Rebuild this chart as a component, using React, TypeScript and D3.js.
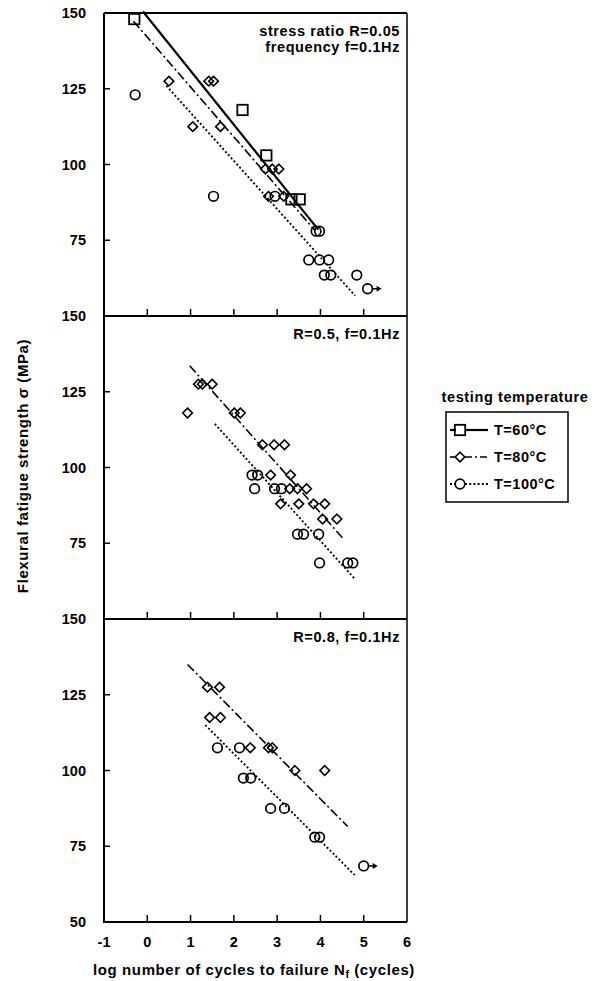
import React from "react";
import * as d3 from "d3";

// ---------- data ----------
const xTicks = [-1, 0, 1, 2, 3, 4, 5, 6];
const yTicks = [150, 125, 100, 75, 50];

const panelNotes: string[][] = [
  ["stress ratio R=0.05", "frequency f=0.1Hz"],
  ["R=0.5, f=0.1Hz"],
  ["R=0.8, f=0.1Hz"],
];

// Panel 1 (R=0.05)
const p1T60: [number, number][] = [[-0.3, 148], [2.2, 118], [2.75, 103], [3.33, 88.5], [3.52, 88.5]];
const p1T80: [number, number][] = [
  [0.5, 127.5], [1.42, 127.5], [1.53, 127.5], [1.05, 112.5], [1.69, 112.5],
  [2.73, 98.5], [2.89, 98.5], [3.04, 98.5], [2.8, 89.5], [3.15, 89.5],
];
const p1T100: [number, number][] = [
  [-0.28, 123], [1.53, 89.5], [2.95, 89.5], [3.9, 78], [3.98, 78],
  [3.73, 68.5], [3.98, 68.5], [4.19, 68.5], [4.09, 63.5], [4.24, 63.5], [4.84, 63.5], [5.09, 59],
];
const p1Runout: [number, number][] = [[5.09, 59]];
const p1Fit60: [number, number][] = [[-0.1, 150.5], [3.95, 78.5]];
const p1Fit80: [number, number][] = [[-0.32, 147.3], [3.87, 78.3]];
const p1Fit100: [number, number][] = [[0.44, 126], [4.8, 56.7]];

// Panel 2 (R=0.5)
const p2T80: [number, number][] = [
  [0.93, 118], [1.18, 127.5], [1.27, 127.5], [1.5, 127.5], [2.01, 118], [2.15, 118],
  [2.66, 107.5], [2.93, 107.5], [3.17, 107.5], [2.85, 97.5], [3.31, 97.5],
  [3.29, 93], [3.47, 93], [3.68, 93], [3.08, 88], [3.5, 88], [3.84, 88], [4.1, 88],
  [4.05, 83], [4.38, 83],
];
const p2T100: [number, number][] = [
  [2.42, 97.5], [2.55, 97.5], [2.48, 93], [2.94, 93], [3.1, 93],
  [3.47, 78], [3.61, 78], [3.96, 78], [3.98, 68.5], [4.63, 68.5], [4.75, 68.5],
];
const p2Fit80: [number, number][] = [[0.98, 133.6], [4.51, 76.8]];
const p2Fit100: [number, number][] = [[1.56, 114.4], [4.79, 63.3]];

// Panel 3 (R=0.8)
const p3T80: [number, number][] = [
  [1.39, 127.5], [1.67, 127.5], [1.44, 117.5], [1.69, 117.5],
  [2.38, 107.5], [2.8, 107.5], [2.89, 107.5], [3.41, 100], [4.1, 100],
];
const p3T100: [number, number][] = [
  [1.62, 107.5], [2.13, 107.5], [2.22, 97.5], [2.39, 97.5],
  [2.85, 87.5], [3.17, 87.5], [3.87, 78], [3.98, 78], [5.0, 68.5],
];
const p3Runout: [number, number][] = [[5.0, 68.5]];
const p3Fit80: [number, number][] = [[0.93, 135], [4.63, 81.5]];
const p3Fit100: [number, number][] = [[1.34, 115], [4.79, 65.5]];

const legendItems = ["T=60°C", "T=80°C", "T=100°C"];

// ---------- layout ----------
const W = 599, H = 981;
const left = 104, right = 407;
const top0 = 13, ph = 303;
const FONT = "'Liberation Sans', Arial, Helvetica, sans-serif";

const x = d3.scaleLinear().domain([-1, 6]).range([left, right]);

const styles = {
  60: { dash: "none", width: 2.2 },
  80: { dash: "9,3,2,3", width: 1.6 },
  100: { dash: "2,2.2", width: 1.8 },
};

type Pt = [number, number];

function Square({ cx, cy }: { cx: number; cy: number }) {
  return <rect x={cx - 5.2} y={cy - 5.2} width={10.4} height={10.4} fill="none" stroke="#000" strokeWidth={1.8} />;
}
function Diamond({ cx, cy }: { cx: number; cy: number }) {
  const s = 4.8;
  return (
    <path d={`M${cx},${cy - s}L${cx + s},${cy}L${cx},${cy + s}L${cx - s},${cy}Z`} fill="none" stroke="#000" strokeWidth={1.6} />
  );
}
function Circle({ cx, cy }: { cx: number; cy: number }) {
  return <circle cx={cx} cy={cy} r={4.8} fill="none" stroke="#000" strokeWidth={1.7} />;
}

interface PanelProps {
  idx: number;
  t60?: Pt[];
  t80: Pt[];
  t100: Pt[];
  fit60?: Pt[];
  fit80: Pt[];
  fit100: Pt[];
  runout?: Pt[];
  showBottomLabel?: boolean;
}

function Panel({ idx, t60, t80, t100, fit60, fit80, fit100, runout, showBottomLabel }: PanelProps) {
  const y0 = top0 + idx * ph;
  const y = d3.scaleLinear().domain([50, 150]).range([y0 + ph, y0]);
  const line = d3.line<Pt>().x((d) => x(d[0])).y((d) => y(d[1]));
  const notes = panelNotes[idx];
  const labels = showBottomLabel ? yTicks : yTicks.filter((t) => t !== 50);
  return (
    <g>
      <line x1={left} x2={left} y1={y0} y2={y0 + ph} stroke="#000" strokeWidth={2} />
      <line x1={right} x2={right} y1={y0} y2={y0 + ph} stroke="#000" strokeWidth={1.5} />
      {idx === 0 && <line x1={left} x2={right} y1={y0} y2={y0} stroke="#000" strokeWidth={1.8} />}
      <line x1={left - 1} x2={right} y1={y0 + ph} y2={y0 + ph} stroke="#000" strokeWidth={2} />
      {xTicks.slice(1, -1).map((t) => (
        <line key={t} x1={x(t)} x2={x(t)} y1={y0 + ph} y2={y0 + ph - 7} stroke="#000" strokeWidth={1.5} />
      ))}
      {yTicks.slice(1, -1).map((t) => (
        <line key={t} x1={left} x2={left + 6} y1={y(t)} y2={y(t)} stroke="#000" strokeWidth={1.5} />
      ))}
      {labels.map((t) => (
        <text key={t} x={86} y={y(t)} dy="0.36em" textAnchor="end" fontFamily={FONT} fontWeight="bold" fontSize={14.5}>
          {t}
        </text>
      ))}
      {notes.map((n, i) => (
        <text key={n} x={right - 7} y={y0 + 23 + i * 16} textAnchor="end" fontFamily={FONT} fontWeight="bold"
          fontSize={14.5} letterSpacing={0.6}>
          {n}
        </text>
      ))}
      {fit60 && <path d={line(fit60) || ""} fill="none" stroke="#000" strokeWidth={styles[60].width} />}
      <path d={line(fit80) || ""} fill="none" stroke="#000" strokeWidth={styles[80].width} strokeDasharray={styles[80].dash} />
      <path d={line(fit100) || ""} fill="none" stroke="#000" strokeWidth={styles[100].width} strokeDasharray={styles[100].dash} />
      {t60 && t60.map((d, i) => <Square key={"s" + i} cx={x(d[0])} cy={y(d[1])} />)}
      {t80.map((d, i) => <Diamond key={"d" + i} cx={x(d[0])} cy={y(d[1])} />)}
      {t100.map((d, i) => <Circle key={"c" + i} cx={x(d[0])} cy={y(d[1])} />)}
      {runout &&
        runout.map((d, i) => {
          const cx = x(d[0]), cy = y(d[1]);
          return (
            <g key={"r" + i}>
              <line x1={cx + 5} x2={cx + 10} y1={cy} y2={cy} stroke="#000" strokeWidth={1.5} />
              <path d={`M${cx + 9},${cy - 3}L${cx + 14},${cy}L${cx + 9},${cy + 3}Z`} fill="#000" />
            </g>
          );
        })}
    </g>
  );
}

function Legend() {
  const bx = 446, by = 412, bw = 122, bh = 90;
  const rows = [430, 457, 484];
  return (
    <g fontFamily={FONT} fontWeight="bold" fontSize={14.5}>
      <text x={515} y={402} textAnchor="middle" letterSpacing={0.6}>testing temperature</text>
      <rect x={bx} y={by} width={bw} height={bh} fill="none" stroke="#000" strokeWidth={1.5} />
      {legendItems.map((lab, i) => {
        const yy = rows[i];
        const key = [60, 80, 100][i] as 60 | 80 | 100;
        return (
          <g key={lab}>
            <line x1={450} x2={456} y1={yy} y2={yy} stroke="#000" strokeWidth={styles[key].width} strokeDasharray={key === 100 ? "2,2" : "none"} />
            <line x1={465} x2={488} y1={yy} y2={yy} stroke="#000" strokeWidth={styles[key].width}
              strokeDasharray={key === 60 ? "none" : key === 80 ? "7,3,2,3" : "2,2.2"} />
            {key === 60 && <Square cx={460} cy={yy} />}
            {key === 80 && <Diamond cx={460} cy={yy} />}
            {key === 100 && <Circle cx={460} cy={yy} />}
            <text x={494} y={yy} dy="0.36em" letterSpacing={0.5}>{lab}</text>
          </g>
        );
      })}
    </g>
  );
}

export default function App() {
  const yb = top0 + 3 * ph;
  return (
    <svg width={W} height={H} style={{ position: "absolute", left: 0, top: 0, background: "#fff" }}>
      <rect width={W} height={H} fill="#fff" />
      <Panel idx={0} t60={p1T60} t80={p1T80} t100={p1T100} fit60={p1Fit60} fit80={p1Fit80} fit100={p1Fit100} runout={p1Runout} />
      <Panel idx={1} t80={p2T80} t100={p2T100} fit80={p2Fit80} fit100={p2Fit100} />
      <Panel idx={2} t80={p3T80} t100={p3T100} fit80={p3Fit80} fit100={p3Fit100} runout={p3Runout} showBottomLabel />
      {xTicks.map((t) => (
        <text key={t} x={x(t)} y={yb + 25} textAnchor="middle" fontFamily={FONT} fontWeight="bold" fontSize={14.5}>
          {t}
        </text>
      ))}
      <text x={254} y={975} textAnchor="middle" fontFamily={FONT} fontWeight="bold" fontSize={15} letterSpacing={0.6}>
        log number of cycles to failure N<tspan fontSize={10.5} dy={3}>f</tspan><tspan dy={-3}> (cycles)</tspan>
      </text>
      <text transform={`translate(28,${466}) rotate(-90)`} textAnchor="middle" fontFamily={FONT} fontWeight="bold"
        fontSize={15} letterSpacing={0.6}>
        Flexural fatigue strength σ (MPa)
      </text>
      <Legend />
    </svg>
  );
}
